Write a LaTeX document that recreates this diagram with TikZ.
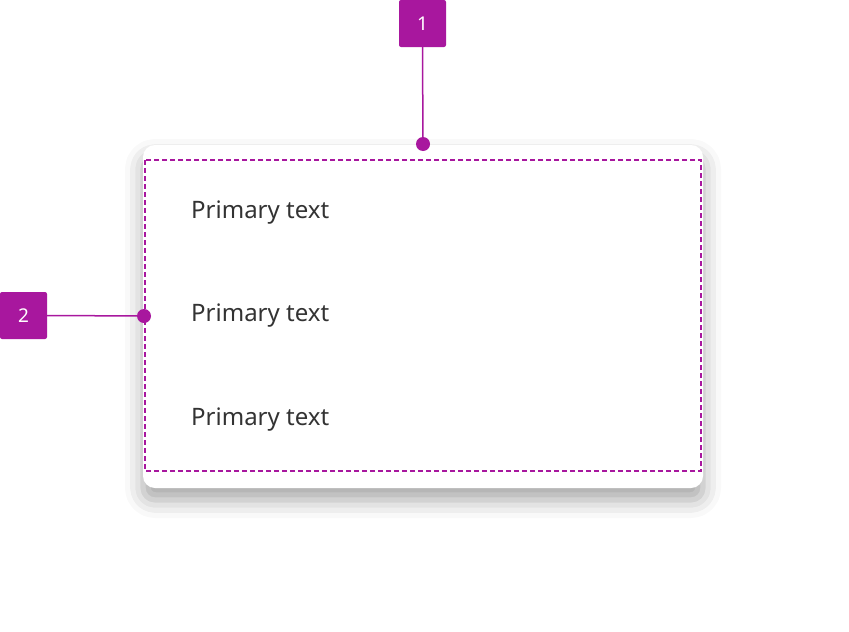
\documentclass[tikz,border=0pt]{standalone}
\usepackage{fontspec}
\setmainfont{Noto Sans}
\usetikzlibrary{shadows.blur}
\definecolor{mag}{HTML}{A8179E}
\definecolor{txt}{HTML}{333333}
\tikzset{
  badge/.style={fill=mag,rounded corners=2pt,minimum width=47pt,minimum height=47pt,inner sep=0pt,text=white,font=\fontsize{19}{20}\selectfont},
  lead/.style={draw=mag,line width=1.5pt},
  dotm/.style={circle,fill=mag,minimum size=14pt,inner sep=0pt},
  ptext/.style={anchor=west,text=txt,font=\fontsize{24}{28}\selectfont,inner sep=0pt}
}
\begin{document}
\begin{tikzpicture}[x=1pt,y=-1pt]
\useasboundingbox (0,0) rectangle (849,632);
\node[fill=white,rounded corners=12pt,minimum width=560pt,minimum height=343pt,inner sep=0pt,
  blur shadow={shadow xshift=0pt,shadow yshift=-12pt,shadow blur radius=18pt,shadow opacity=35}] (card) at (423,316.5) {};
\draw[mag,dashed,line width=1.3pt,dash pattern=on 5pt off 3pt] (145,160) rectangle (701,471);
\node[ptext] (t1) at (191,213) {Primary text};
\node[ptext] (t2) at (191,316) {Primary text};
\node[ptext] (t3) at (191,420) {Primary text};
\node[badge] (b1) at (422.5,23.5) {1};
\node[badge] (b2) at (23.5,315.5) {2};
\node[dotm] (d1) at (423,144) {};
\node[dotm] (d2) at (144,316) {};
\draw[lead] (b1.south) -- (d1.center);
\draw[lead] (b2.east) -- (d2.center);
\end{tikzpicture}
\end{document}
